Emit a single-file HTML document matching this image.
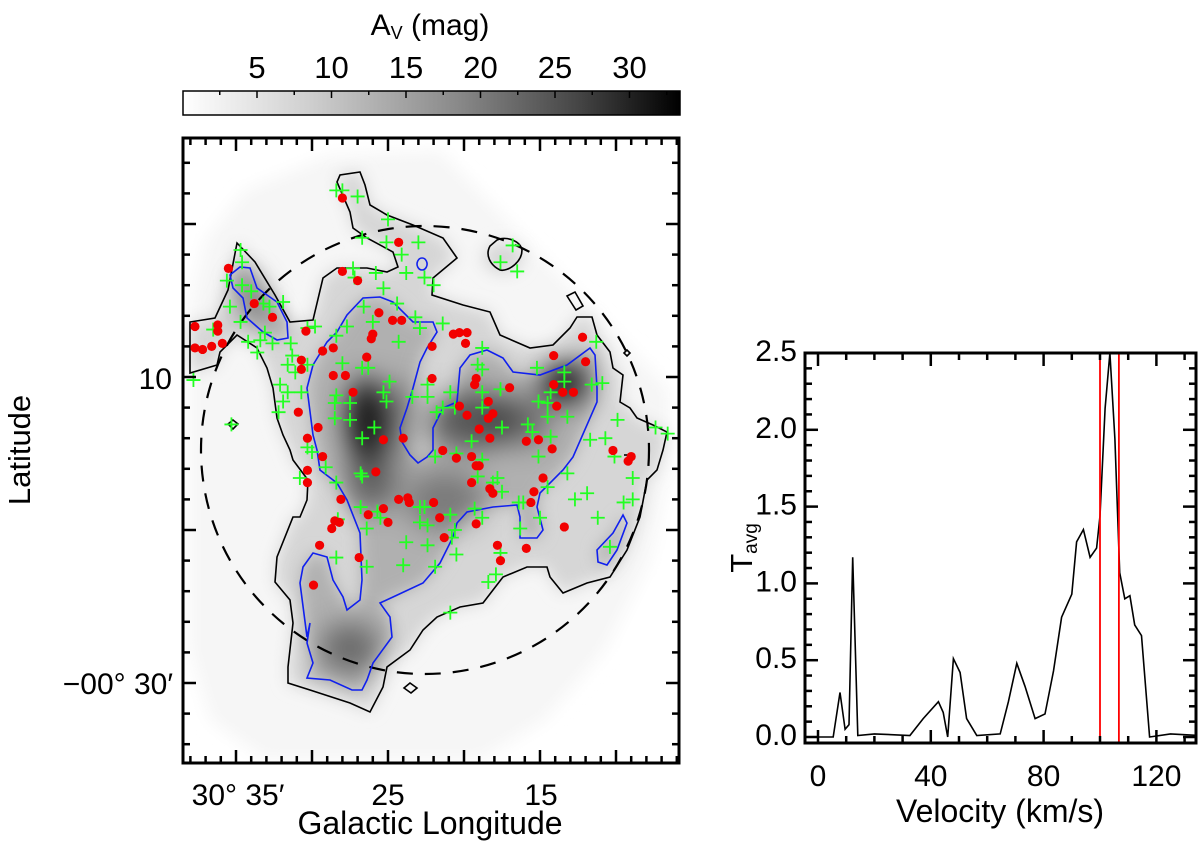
<!DOCTYPE html>
<html><head><meta charset="utf-8"><style>
html,body{margin:0;padding:0;background:#fff;}
svg{display:block;font-family:"Liberation Sans",Arial,sans-serif;}
</style></head><body>
<svg id="fig" width="1200" height="850" viewBox="0 0 1200 850" xmlns="http://www.w3.org/2000/svg">
<defs>
<linearGradient id="cbg" x1="0" x2="1" y1="0" y2="0">
<stop offset="0" stop-color="#ffffff"/><stop offset="0.25" stop-color="#d0d0d0"/><stop offset="0.55" stop-color="#8a8a8a"/><stop offset="0.8" stop-color="#444"/><stop offset="1" stop-color="#000"/>
</linearGradient>
<filter id="blur" x="-20%" y="-20%" width="140%" height="140%"><feGaussianBlur stdDeviation="8"/></filter>
<filter id="blur2" x="-50%" y="-50%" width="200%" height="200%"><feGaussianBlur stdDeviation="14"/></filter>
<clipPath id="mapclip"><rect x="183" y="138" width="496" height="625"/></clipPath>
<clipPath id="specclip"><rect x="805" y="353" width="391" height="390"/></clipPath>
</defs>

<g>
<rect x="183" y="91" width="497" height="24" fill="url(#cbg)" stroke="#000" stroke-width="1.5"/>
<g id="cbticks"></g>
<text x="430" y="35" text-anchor="middle" font-size="30">A<tspan font-size="18" dy="4">V</tspan><tspan dy="-4"> (mag)</tspan></text>
</g>

<g>
<g clip-path="url(#mapclip)">
<path d="M190,300 L205,240 L245,190 L330,155 L440,150 L670,390 L670,470 L650,560 L605,650 L545,720 L480,760 L265,760 L210,720 L190,650 Z" fill="#f6f6f6" filter="url(#blur)"/>
<g id="fillblack" filter="url(#blur)" fill="#d6d6d6"></g>
<g id="fillblue" filter="url(#blur)" fill="#b0b0b0"></g>
<g filter="url(#blur2)">
<ellipse cx="367" cy="420" rx="20" ry="42" fill="#000" opacity="0.9"/>
<ellipse cx="372" cy="480" rx="25" ry="30" fill="#000" opacity="0.45"/>
<ellipse cx="565" cy="383" rx="22" ry="20" fill="#000" opacity="0.9"/>
<ellipse cx="472" cy="420" rx="40" ry="30" fill="#000" opacity="0.5"/>
<ellipse cx="520" cy="420" rx="30" ry="25" fill="#000" opacity="0.4"/>
<ellipse cx="350" cy="648" rx="30" ry="25" fill="#000" opacity="0.4"/>
<ellipse cx="405" cy="420" rx="18" ry="40" fill="#000" opacity="0.3"/>
<ellipse cx="445" cy="500" rx="40" ry="30" fill="#000" opacity="0.3"/>
<ellipse cx="250" cy="300" rx="15" ry="25" fill="#000" opacity="0.3"/>
</g>
<circle cx="425" cy="450" r="224" fill="none" stroke="#000" stroke-width="2.2" stroke-dasharray="16,12"/>
<g id="contours"></g>
<g id="markers"></g>
</g>
<rect x="183" y="138" width="496" height="625" fill="none" stroke="#000" stroke-width="3"/>
<g id="mapticks"></g>
<text x="172" y="389" text-anchor="end" font-size="30">10</text>
<text x="173" y="694" text-anchor="end" font-size="30">−00° 30′</text>
<text x="238" y="805" text-anchor="middle" font-size="30">30° 35′</text>
<text x="388" y="805" text-anchor="middle" font-size="30">25</text>
<text x="541" y="805" text-anchor="middle" font-size="30">15</text>
<text x="430" y="834" text-anchor="middle" font-size="32">Galactic Longitude</text>
<text transform="translate(30,450) rotate(-90)" text-anchor="middle" font-size="31">Latitude</text>
</g>

<g>
<g clip-path="url(#specclip)">
<path id="specline" fill="none" stroke="#000" stroke-width="1.6"/>
<g id="vlines"></g>
</g>
<rect x="805" y="353" width="391" height="390" fill="none" stroke="#000" stroke-width="3"/>
<g id="specticks"></g>
<text x="1000" y="822" text-anchor="middle" font-size="32">Velocity (km/s)</text>
<text transform="translate(752,548) rotate(-90)" text-anchor="middle" font-size="31">T<tspan font-size="19" dy="5">avg</tspan></text>
</g>
</svg>
<script>
const cbTicks = [5,10,15,20,25,30];
const specV = [-5,5.4,7.8,9.6,11,12.3,14.1,20,32.6,37.3,42.7,44.4,46,48,50.4,52.7,56.3,64.6,67.5,70.5,73.4,77,80.5,83.5,86.4,90,91.7,94.1,96.5,98.8,100,101.8,103.5,105.3,107,108.8,110.6,112.3,114.7,117.6,125,135];
const specT = [0,0,0.29,0.05,0.08,1.17,0.01,0.02,0.01,0.12,0.23,0.16,0,0.51,0.42,0.12,0.01,0.02,0.23,0.48,0.33,0.12,0.15,0.43,0.78,0.93,1.27,1.35,1.17,1.23,1.44,2.14,2.5,1.94,1.07,0.9,0.92,0.73,0.66,0,0.02,0.01];
const velLines = [100,106.7];
const velTicks = [0,40,80,120];
const tTicks = [0,0.5,1.0,1.5,2.0,2.5];
const redLon = [28.0,24.3,28.0,27.0,35.5,33.8,32.6,37.7,36.2,36.2,37.7,37.2,36.6,35.9,30.4,25.6,24.7,24.1,26.0,26.1,28.6,29.3,26.4,30.7,30.7,28.6,27.8,27.3,30.9,29.6,30.3,29.3,25.3,24.0,22.1,22.1,20.7,20.3,19.8,19.9,19.2,19.3,20.3,19.8,18.4,18.1,18.4,19.0,18.3,17.0,15.9,15.1,14.2,14.1,13.5,12.8,13.9,14.1,12.0,12.2,21.4,20.5,19.5,10.2,9.0,30.3,30.3,28.1,28.5,28.2,28.7,29.5,25.8,26.9,29.9,26.3,25.3,25.0,24.3,23.7,23.6,22.0,21.6,21.3,19.2,19.0,19.5,18.3,18.1,19.2,17.8,17.6,14.8,15.4,15.6,15.9,13.4,9.2];
const redLat = [1.7,-1.2,-3.1,-3.7,-2.9,-5.2,-6.1,-6.7,-6.6,-7.0,-8.1,-8.2,-8.0,-7.8,-7.0,-5.8,-6.3,-6.3,-7.2,-7.5,-8.1,-8.3,-8.7,-8.9,-9.5,-9.9,-9.9,-11.0,-12.3,-13.3,-14.0,-15.2,-14.1,-14.0,-8.0,-10.1,-7.2,-7.1,-7.1,-7.8,-10.1,-10.5,-11.9,-12.5,-11.6,-12.4,-12.7,-13.4,-14.0,-10.7,-14.2,-14.1,-14.7,-10.5,-11.0,-11.0,-11.9,-8.6,-9.0,-7.4,-14.8,-15.3,-15.2,-14.8,-15.2,-16.1,-16.9,-18.0,-19.4,-19.5,-19.9,-21.0,-16.2,-21.8,-23.6,-19.0,-18.6,-19.5,-18.0,-17.9,-18.2,-18.2,-19.2,-20.5,-15.8,-15.8,-16.9,-17.3,-17.6,-19.6,-21.0,-22.0,-16.6,-17.5,-18.2,-21.2,-19.8,-15.5];
const grnLon = [28.4,28.0,27.0,25.0,26.7,25.1,23.0,24.1,16.8,17.6,16.5,34.7,34.6,35.6,34.6,34.0,35.4,33.2,32.8,31.9,34.7,36.5,33.1,34.2,33.4,32.6,31.4,33.6,30.3,29.8,27.3,27.2,25.8,23.8,22.6,22.0,25.3,24.4,26.6,26.0,23.2,21.4,22.9,24.3,28.4,27.7,31.3,31.6,31.1,30.3,28.0,26.7,26.3,24.9,32.1,31.6,31.9,32.2,30.7,28.4,28.5,27.5,28.5,27.5,25.9,26.7,25.3,25.1,23.4,22.4,22.4,20.9,21.4,21.8,20.6,18.8,19.1,18.8,18.8,17.6,18.8,17.5,19.5,15.2,13.4,13.4,14.3,15.1,14.5,14.5,13.2,15.8,15.5,14.3,15.1,11.6,10.9,11.3,9.9,11.7,10.7,7.4,6.6,10.1,35.3,30.3,21.9,20.5,37.8,30.0,29.1,30.8,28.4,26.8,26.7,18.8,19.1,17.8,18.1,17.5,26.8,25.7,25.5,26.4,28.3,22.9,22.6,22.9,22.4,20.9,20.6,20.8,19.3,18.8,23.8,22.4,20.5,24.0,21.9,26.4,28.4,17.6,17.9,18.4,16.4,16.1,15.0,16.3,14.5,13.2,11.9,12.7,11.2,9.5,8.9,8.9,10.4,20.9];
const grnLat = [2.2,2.2,1.8,0.3,-0.9,-1.2,-1.2,-2.0,-1.4,-2.5,-3.1,-1.7,-2.5,-3.7,-4.0,-4.4,-5.4,-5.2,-5.4,-5.1,-6.4,-6.9,-7.1,-7.7,-7.6,-7.8,-7.8,-8.4,-6.8,-6.7,-2.9,-3.5,-3.2,-3.2,-3.5,-4.0,-4.2,-5.2,-5.4,-6.4,-6.1,-6.5,-6.8,-7.7,-7.3,-6.7,-8.6,-9.2,-9.7,-9.2,-9.1,-9.4,-9.4,-10.3,-10.5,-11.0,-11.6,-12.3,-11.0,-11.2,-11.7,-11.7,-12.7,-12.8,-13.3,-14.0,-11.0,-11.6,-11.3,-10.5,-11.3,-11.0,-12.0,-12.3,-12.0,-8.1,-9.2,-9.5,-11.0,-10.8,-12.0,-13.3,-14.2,-9.4,-9.7,-10.3,-11.0,-11.6,-11.7,-12.6,-12.6,-13.1,-13.6,-13.9,-15.2,-10.5,-10.4,-7.7,-12.8,-14.1,-14.0,-13.3,-13.7,-15.2,-13.1,-14.6,-15.2,-15.0,-10.2,-14.9,-15.9,-16.6,-16.9,-16.3,-16.5,-15.4,-16.5,-16.6,-16.9,-17.5,-18.5,-18.8,-19.2,-19.9,-19.3,-18.5,-18.5,-19.5,-19.7,-19.0,-20.0,-20.5,-18.6,-19.2,-20.8,-21.0,-21.6,-22.3,-22.4,-22.4,-21.8,-21.5,-22.9,-23.4,-18.2,-18.2,-19.2,-19.9,-17.2,-16.3,-17.6,-18.0,-19.2,-18.2,-18.0,-16.6,-21.1,-25.4];

const NS = 'http://www.w3.org/2000/svg';
function mk(tag, parent, attrs){const e=document.createElementNS(NS,tag);for(const k in attrs)e.setAttribute(k,attrs[k]);parent.appendChild(e);return e;}
const cbX = v => 257 + (v-5)*14.9;
const mapX = lon => 236 + (35-lon)*15.2;
const mapY = lat => 377 + (-10-lat)*15.3;
const vX = v => 818 + v*2.82;
const tY = t => 737 - t*153.6;

const cbg = document.getElementById('cbticks');
cbTicks.forEach(v=>{
  const t = mk('text', cbg, {x:cbX(v), y:78, 'text-anchor':'middle', 'font-size':31});
  t.textContent = v;
  
  
});
for(let v=2.5; v<=32.5; v+=2.5){
  const l = mk('line', cbg, {x1:cbX(v), x2:cbX(v), y1:91, y2:(v%5===0)?98:95, stroke:'#000','stroke-width':1.5});
  
  
}

const mt = document.getElementById('mapticks');
for(let lon=38; lon>=6; lon--){
  const x = mapX(lon), len = (lon%5===0)?13:7;
  const a = mk('line', mt, {x1:x,x2:x,y1:763,y2:763-len,stroke:'#000','stroke-width':2.5});
  
  
  const b = mk('line', mt, {x1:x,x2:x,y1:138,y2:138+len,stroke:'#000','stroke-width':2.5});
  
  
}
for(let lat=4; lat>=-34; lat-=2){
  const y = mapY(lat), len = (lat%10===0)?13:7;
  const a = mk('line', mt, {x1:183,x2:183+len,y1:y,y2:y,stroke:'#000','stroke-width':2.5});
  
  
  const b = mk('line', mt, {x1:679,x2:679-len,y1:y,y2:y,stroke:'#000','stroke-width':2.5});
  
  
}

const blackMain = "M190,373 L190,322 L215,318 L228,290 L237,243 L255,262 L275,295 L290,322 L313,320 L323,278 L337,268 L367,268 L387,272 L398,267 L393,252 L367,238 L353,228 L350,212 L337,182 L340,175 L360,172 L365,185 L370,205 L387,215 L413,225 L443,238 L457,258 L433,278 L432,295 L463,305 L490,312 L500,335 L530,348 L553,345 L570,328 L577,317 L592,317 L597,335 L610,352 L613,368 L623,375 L620,402 L630,408 L637,418 L653,425 L667,432 L663,450 L657,470 L647,480 L640,517 L627,550 L610,577 L587,583 L563,593 L550,577 L547,567 L527,567 L503,577 L483,603 L460,607 L437,617 L423,630 L410,650 L387,667 L383,687 L370,712 L350,703 L310,690 L288,683 L288,667 L293,623 L290,600 L275,582 L277,557 L293,517 L300,517 L307,500 L308,480 L293,460 L290,450 L283,435 L277,418 L273,388 L267,368 L257,348 L237,335 L220,352 L217,365 Z";
const blueMain = "M313,365 L327,342 L337,332 L347,315 L363,298 L380,297 L393,302 L413,322 L433,322 L437,332 L427,348 L420,362 L413,388 L407,408 L400,428 L402,442 L410,455 L418,463 L427,457 L433,450 L433,428 L443,408 L457,402 L460,368 L470,355 L487,350 L503,358 L513,372 L540,375 L567,365 L590,348 L595,355 L597,388 L597,402 L573,457 L563,470 L540,493 L537,507 L543,530 L537,538 L520,538 L520,517 L517,505 L493,507 L467,512 L457,523 L453,537 L440,563 L423,583 L393,597 L380,603 L390,617 L392,637 L373,663 L367,680 L362,690 L352,690 L330,680 L307,678 L313,663 L307,643 L310,623 L307,637 L300,583 L303,567 L313,553 L327,557 L333,580 L343,597 L347,610 L360,600 L362,580 L360,533 L347,500 L337,483 L320,470 L317,450 L313,435 L307,388 Z";
const blueArm = "M230,275 L240,267 L250,268 L257,288 L277,302 L287,322 L288,338 L277,340 L263,332 L247,318 L243,298 L233,288 Z";
const blueRight = "M623,515 L627,523 L617,550 L607,565 L598,562 L597,550 L613,533 Z";
const fb = document.getElementById('fillblack');
[blackMain,"M503,243 a20,15 0 1,0 0.1,0 Z"].forEach(d=>mk('path',fb,{d:d}));
const fbl = document.getElementById('fillblue');
[blueMain,blueArm,blueRight].forEach(d=>mk('path',fbl,{d:d}));
const cg = document.getElementById('contours');
const blackPaths = [blackMain,"M497,240 C505,236 520,240 522,250 C522,262 508,272 500,270 C490,265 485,255 490,246 Z","M228,424 l5,-4 l5,4 l-5,5 Z","M404,688 l6,-5 l7,5 l-6,5 Z","M567,296 l8,-4 l8,14 l-7,4 Z","M624,353 l3,-3 l3,3 l-3,3 Z","M624,455 l8,0"];
blackPaths.forEach(d=>{
  const p = mk('path', cg, {d:d, fill:'none', stroke:'#000','stroke-width':1.6});
  
  
});
[blueMain,blueArm,blueRight,"M422,258 a5,6 0 1,0 0.1,0 Z"].forEach(d=>{
  const p = mk('path', cg, {d:d, fill:'none', stroke:'#1020ee','stroke-width':1.6});
  
  
});

const mg = document.getElementById('markers');
grnLon.forEach((lon,i)=>{
  const x = mapX(lon), y = mapY(grnLat[i]);
  const p = mk('path', mg, {d:`M${x-7},${y} L${x+7},${y} M${x},${y-7} L${x},${y+7}`, stroke:'#22ff22','stroke-width':1.8, fill:'none'});
  
  
});
redLon.forEach((lon,i)=>{
  const c = mk('circle', mg, {cx:mapX(lon), cy:mapY(redLat[i]), r:4.6, fill:'#f20000'});
  
  
});

let d='';
specV.forEach((v,i)=>{ d += (i?'L':'M') + vX(v).toFixed(1) + ',' + tY(specT[i]).toFixed(1) + ' '; });
document.getElementById('specline').setAttribute('d', d);
const vl = document.getElementById('vlines');
velLines.forEach(v=>{
  const l = mk('line', vl, {x1:vX(v),x2:vX(v),y1:353,y2:743,stroke:'#f00','stroke-width':1.8});
  
  
});
const st = document.getElementById('specticks');
for(let v=0; v<=130; v+=10){
  const x = vX(v), len = (v%40===0)?13:7;
  const a = mk('line', st, {x1:x,x2:x,y1:743,y2:743-len,stroke:'#000','stroke-width':2.5});
  
  
  const b = mk('line', st, {x1:x,x2:x,y1:353,y2:353+len,stroke:'#000','stroke-width':2.5});
  
  
}
velTicks.forEach(v=>{
  const t = mk('text', st, {x:vX(v), y:786, 'text-anchor':'middle','font-size':30});
  t.textContent = v;
  
  
});
for(let k=0; k<=25; k++){
  const tv = k*0.1, y = tY(tv), len = (k%5===0)?13:7;
  const a = mk('line', st, {x1:805,x2:805+len,y1:y,y2:y,stroke:'#000','stroke-width':2.5});
  
  
  const b = mk('line', st, {x1:1196,x2:1196-len,y1:y,y2:y,stroke:'#000','stroke-width':2.5});
  
  
}
tTicks.forEach(tv=>{
  const t = mk('text', st, {x:797, y:tY(tv)+8, 'text-anchor':'end','font-size':30});
  t.textContent = tv.toFixed(1);
  
  
});
</script>
</body></html>
